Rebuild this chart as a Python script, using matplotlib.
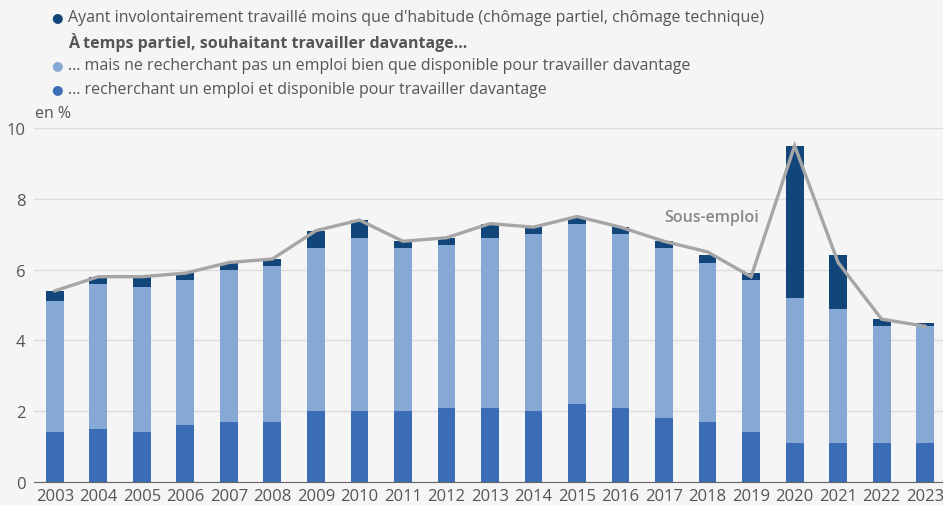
import matplotlib.pyplot as plt
import numpy as np

plt.rcParams['font.family'] = ['Open Sans', 'DejaVu Sans']

# Données (en %)
annees = [str(a) for a in range(2003, 2024)]
recherchant = [1.4, 1.5, 1.4, 1.6, 1.7, 1.7, 2.0, 2.0, 2.0, 2.1, 2.1,
               2.0, 2.2, 2.1, 1.8, 1.7, 1.4, 1.1, 1.1, 1.1, 1.1]
ne_recherchant_pas = [3.7, 4.1, 4.1, 4.1, 4.3, 4.4, 4.6, 4.9, 4.6, 4.6, 4.8,
                      5.0, 5.1, 4.9, 4.8, 4.5, 4.3, 4.1, 3.8, 3.3, 3.3]
involontaire = [0.3, 0.2, 0.3, 0.2, 0.2, 0.2, 0.5, 0.5, 0.2, 0.2, 0.4,
                0.2, 0.2, 0.2, 0.2, 0.2, 0.2, 4.3, 1.5, 0.2, 0.1]
sous_emploi = [5.4, 5.8, 5.8, 5.9, 6.2, 6.3, 7.1, 7.4, 6.8, 6.9, 7.3,
               7.2, 7.5, 7.2, 6.8, 6.5, 5.8, 9.5, 6.2, 4.6, 4.4]

c_fonce = '#12467a'
c_clair = '#86a8d4'
c_moyen = '#3a6db5'
c_texte = '#555555'
fond = '#f5f5f5'

fig = plt.figure(figsize=(9.43, 5.06), dpi=100, facecolor=fond)
ax = fig.add_axes([0.036, 0.0455, 0.964, 0.6995], facecolor=fond)

x = np.arange(len(annees))
bas = np.array(recherchant)
milieu = bas + np.array(ne_recherchant_pas)
ax.bar(x, recherchant, width=0.41, color=c_moyen, zorder=2)
ax.bar(x, ne_recherchant_pas, width=0.41, bottom=bas, color=c_clair, zorder=2)
ax.bar(x, involontaire, width=0.41, bottom=milieu, color=c_fonce, zorder=2)
ax.plot(x, sous_emploi, color='#a6a6a6', linewidth=2.4, zorder=3,
        solid_joinstyle='miter')

ax.text(14.0, 7.5, 'Sous-emploi', color='#888888', fontsize=11.5,
        fontweight='semibold', ha='left', va='center')

ax.set_xlim(-0.48, 20.41)
ax.set_ylim(0, 10)
ax.set_yticks([0, 2, 4, 6, 8, 10])
ax.set_xticks(x)
ax.set_xticklabels(annees)
ax.tick_params(axis='both', length=0, labelsize=12, colors=c_texte)
ax.tick_params(axis='x', pad=4)
ax.tick_params(axis='y', pad=6)
ax.grid(axis='y', color='#dcdcdc', linewidth=1, zorder=0)
for s in ['top', 'right', 'left']:
    ax.spines[s].set_visible(False)
ax.spines['bottom'].set_color('#666666')
ax.spines['bottom'].set_zorder(4)

# Légende
H = 506
def ypos(p):
    return 1 - p / H

leg = [
    (18, c_fonce, "Ayant involontairement travaillé moins que d'habitude (chômage partiel, chômage technique)"),
    (66, c_clair, "... mais ne recherchant pas un emploi bien que disponible pour travailler davantage"),
    (90, c_moyen, "... recherchant un emploi et disponible pour travailler davantage"),
]
for yp, col, txt in leg:
    fig.text(57 / 943, ypos(yp), '●', color=col, fontsize=9.5, ha='center', va='center',
             family=['DejaVu Sans'])
    fig.text(68 / 943, ypos(yp), txt, color=c_texte, fontsize=11.5, ha='left', va='center')
fig.text(68 / 943, ypos(42), 'À temps partiel, souhaitant travailler davantage...',
         color=c_texte, fontsize=11.5, fontweight='bold', ha='left', va='center')
fig.text(35 / 943, ypos(114), 'en %', color=c_texte, fontsize=11.5, ha='left', va='center')

fig.savefig('out.png', dpi=100, facecolor=fond)
